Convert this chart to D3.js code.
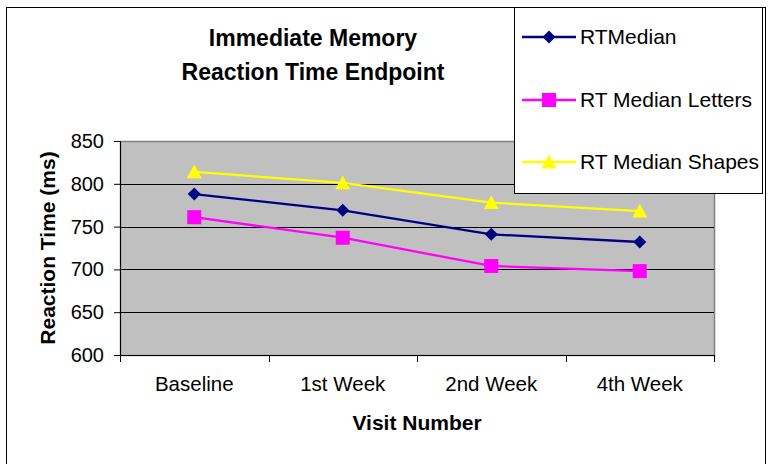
<!DOCTYPE html>
<html>
<head>
<meta charset="utf-8">
<script src="https://cdn.jsdelivr.net/npm/d3@7"></script>
<style>
body{margin:0;background:#fff;}
text{font-family:Arial,"Liberation Sans",sans-serif;}
</style>
</head>
<body>
<div id="chart"></div>
<script>
const visits=['Baseline','1st Week','2nd Week','4th Week']
const rtMedian=[788,769,741,732]
const rtLetters=[761,737,704,698]
const rtShapes=[814,801,778,768]
const yTicks=[600,650,700,750,800,850]

// excel-like marker shapes, size = half width
const diamond={draw(ctx,r){ctx.moveTo(0,-r);ctx.lineTo(r,0);ctx.lineTo(0,r);ctx.lineTo(-r,0);ctx.closePath()}}
const square={draw(ctx,r){ctx.rect(-r,-r,2*r,2*r)}}
const triangle={draw(ctx,r){ctx.moveTo(0,-r);ctx.lineTo(r,r*0.85);ctx.lineTo(-r,r*0.85);ctx.closePath()}}

const series=[
	{name:'RTMedian',values:rtMedian,color:'#000080',symbol:diamond,size:6.5},
	{name:'RT Median Letters',values:rtLetters,color:'#FF00FF',symbol:square,size:7},
	{name:'RT Median Shapes',values:rtShapes,color:'#FFFF00',symbol:triangle,size:7.5}
]

const margin=({top:141,right:55,bottom:109,left:120})
const W=769,H=464
const width=W-margin.left-margin.right,
	height=H-margin.top-margin.bottom

const root=d3.select('#chart').append('svg')
	.attr('width',W)
	.attr('height',H)

root.append('rect')
	.attr('x',6.5).attr('y',7.5)
	.attr('width',759).attr('height',470)
	.attr('fill','#fff').attr('stroke','#000')

const svg=root.append('g')
	.attr('transform','translate('+margin.left+','+margin.top+')')

let xScale=d3.scaleBand()
	.domain(visits)
	.range([0,width])

let yScale=d3.scaleLinear()
	.domain([600,850])
	.range([height,0])

svg.append('rect')
	.attr('x',0.5).attr('y',0.5)
	.attr('width',width).attr('height',height)
	.attr('fill','#C0C0C0')
	.attr('stroke','#808080')
	.attr('stroke-width',1.5)

// gridlines
svg.selectAll('.grid')
	.data(yTicks.slice(1,-1))
	.enter().append('line')
	.attr('x1',0).attr('x2',width)
	.attr('y1',d=>Math.round(yScale(d))+0.5)
	.attr('y2',d=>Math.round(yScale(d))+0.5)
	.attr('stroke','#000')

let yAxis=d3.axisLeft(yScale)
	.tickValues(yTicks)
	.tickSize(6)
	.tickPadding(10)

svg.append('g')
	.attr('class','y-axis')
	.call(yAxis)
	.call(g=>g.selectAll('text').attr('font-size',20).attr('fill','#000').attr('font-family','Arial,"Liberation Sans",sans-serif'))

// x axis with ticks at category boundaries
let xAxis=d3.axisBottom(xScale)
	.tickSize(0)
	.tickPadding(21)
const xg=svg.append('g')
	.attr('class','x-axis')
	.attr('transform',`translate(0,${height})`)
	.call(xAxis)
xg.selectAll('text').attr('font-size',20.5).attr('fill','#000').attr('font-family','Arial,"Liberation Sans",sans-serif')
xg.selectAll('.bound')
	.data(d3.range(visits.length+1))
	.enter().append('line')
	.attr('x1',i=>Math.round(i*xScale.step())+0.5)
	.attr('x2',i=>Math.round(i*xScale.step())+0.5)
	.attr('y1',0).attr('y2',7)
	.attr('stroke','#000')

const cx=d=>xScale(d)+xScale.bandwidth()/2

const line=d3.line()
	.x((d,i)=>cx(visits[i]))
	.y(d=>yScale(d))

series.forEach(s=>{
	svg.append('path')
		.datum(s.values)
		.attr('d',line)
		.attr('fill','none')
		.attr('stroke',s.color)
		.attr('stroke-width',2.3)
	svg.selectAll(null)
		.data(s.values)
		.enter().append('path')
		.attr('d',d3.symbol().type(s.symbol).size(s.size))
		.attr('transform',(d,i)=>`translate(${cx(visits[i])},${yScale(d)})`)
		.attr('fill',s.color)
})

// titles
const title=root.append('text')
	.attr('x',313).attr('y',46)
	.attr('text-anchor','middle')
	.attr('font-size',23).attr('font-weight','bold')
title.append('tspan').attr('x',313).text('Immediate Memory')
title.append('tspan').attr('x',313).attr('dy',34).text('Reaction Time Endpoint')

root.append('text')
	.attr('x',417).attr('y',430)
	.attr('text-anchor','middle')
	.attr('font-size',21).attr('font-weight','bold')
	.text('Visit Number')

root.append('text')
	.attr('transform','translate(55,248) rotate(-90)')
	.attr('text-anchor','middle')
	.attr('font-size',21).attr('font-weight','bold')
	.text('Reaction Time (ms)')

// legend
const lg=root.append('g')
lg.append('rect')
	.attr('x',514.5).attr('y',7.5)
	.attr('width',248).attr('height',186)
	.attr('fill','#fff').attr('stroke','#000')
const ly=[37,100,162]
series.forEach((s,i)=>{
	const g=lg.append('g').attr('transform',`translate(0,${ly[i]})`)
	g.append('line')
		.attr('x1',522).attr('x2',576)
		.attr('stroke',s.color).attr('stroke-width',2.3)
	g.append('path')
		.attr('d',d3.symbol().type(s.symbol).size(s.size))
		.attr('transform','translate(549,0)')
		.attr('fill',s.color)
	g.append('text')
		.attr('x',580).attr('y',7)
		.attr('font-size',21)
		.text(s.name)
})
</script>
</body>
</html>
